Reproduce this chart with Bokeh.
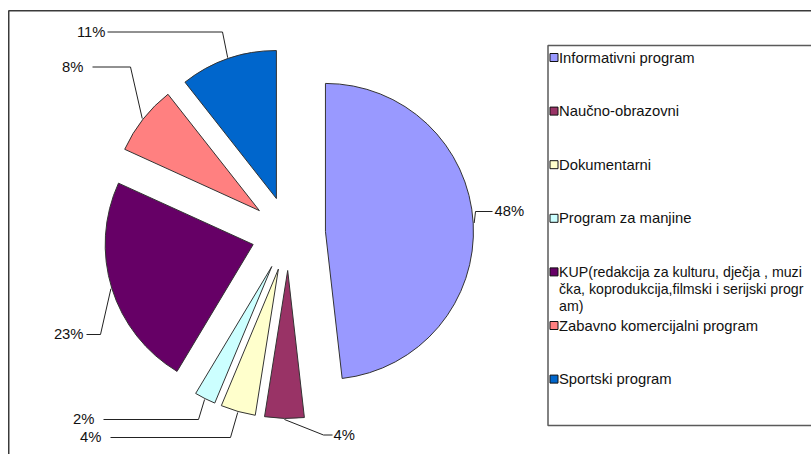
import math
from bokeh.plotting import figure
from bokeh.models import Range1d
from bokeh.embed import file_html
from bokeh.resources import INLINE
from bokeh.core.properties import value

# ---------------- data ----------------
categories = [
    "Informativni program",
    "Naučno-obrazovni",
    "Dokumentarni",
    "Program za manjine",
    "KUP(redakcija za kulturu, dječja , muzička, koprodukcija,filmski i serijski program)",
    "Zabavno komercijalni program",
    "Sportski program",
]
legend_labels = [
    "Informativni program",
    "Naučno-obrazovni",
    "Dokumentarni",
    "Program za manjine",
    "KUP(redakcija za kulturu, dječja , muzi\nčka, koprodukcija,filmski i serijski progr\nam)",
    "Zabavno komercijalni program",
    "Sportski program",
]
values = [48.2, 4.3, 3.8, 2.3, 23.2, 7.6, 10.6]
colors = ["#9999FF", "#993366", "#FFFFCC", "#CCFFFF", "#660066", "#FF8080", "#0066CC"]

# ---------------- layout ----------------
W, H = 811, 454
FONT = value("Liberation Sans")
FS = "14.8px"
FS_WRAP = "14.2px"         # wrapped (multi-line) legend entry
CX, CY = 288.0, 233.0      # pie centre (page px)
R = 148.0                  # radius
EXPLODE = 37.0             # explode distance

# label layout: (elbow_x, elbow_y, line_end_x, text_x, align)
label_layout = [
    (475, 211, 492, 494, "left"),
    (323, 434.5, 332, 333, "left"),
    (230, 437, 110, 101, "right"),
    (198, 419, 103, 94, "right"),
    (100, 334, 86, 83, "right"),
    (130, 66.5, 92, 83, "right"),
    (222, 31.5, 107, 105, "right"),
]

LEG_LEFT, LEG_TOP, LEG_BOTTOM = 547.5, 45, 425
LEG_Y0, LEG_STEP, LEG_LINE = 57, 53.6, 17

p = figure(width=W, height=H, x_range=Range1d(0, W), y_range=Range1d(-H, 0),
           output_backend="svg", toolbar_location=None, min_border=0,
           x_axis_location=None, y_axis_location=None)
p.grid.visible = False
p.outline_line_color = None
p.background_fill_color = "white"
p.border_fill_color = "white"

# outer chart frame (left & top edges visible)
p.line(x=[8.25, 8.25, 812], y=[-455, -10.25, -10.25], line_color="#3a3a3a", line_width=1.5)

# ---------------- pie ----------------
total = float(sum(values))
theta = 0.0
for i, v in enumerate(values):
    t0 = theta
    t1 = theta + v / total * 360.0
    theta = t1
    b = math.radians((t0 + t1) / 2.0)
    ax = CX + EXPLODE * math.sin(b)
    ay = -CY + EXPLODE * math.cos(b)
    p.wedge(x=[ax], y=[ay], radius=R,
            start_angle=[math.radians(90 - t0)], end_angle=[math.radians(90 - t1)],
            direction="clock", fill_color=colors[i], line_color="#333333", line_width=1)
    # leader line
    px = ax + (R + 1) * math.sin(b)
    py = ay + (R + 1) * math.cos(b)
    ex, ey, lx, tx, align = label_layout[i]
    p.line(x=[px, ex, lx], y=[py, -ey, -ey], line_color="#222222", line_width=1)
    p.text(x=[tx], y=[-ey + 0.5], text=[f"{v / total * 100:.0f}%"], text_font=FONT,
           text_font_size=FS, text_align=align, text_baseline="middle", text_color="#111111")

# ---------------- legend ----------------
p.line(x=[812, LEG_LEFT, LEG_LEFT, 812], y=[-LEG_TOP, -LEG_TOP, -LEG_BOTTOM, -LEG_BOTTOM],
       line_color="#5a5a5a", line_width=1.5)
for i, lab in enumerate(legend_labels):
    yy = LEG_Y0 + i * LEG_STEP
    p.rect(x=[553.5], y=[-yy], width=8, height=8, fill_color=colors[i], line_color="#111111", line_width=1)
    lines = lab.split("\n")
    fs = FS if len(lines) == 1 else FS_WRAP
    for j, line in enumerate(lines):
        p.text(x=[558.5], y=[-(yy + j * LEG_LINE)], text=[line], text_font=FONT,
               text_font_size=fs, text_align="left", text_baseline="middle", text_color="#111111")

open("out.html", "w").write(file_html(p, INLINE))
